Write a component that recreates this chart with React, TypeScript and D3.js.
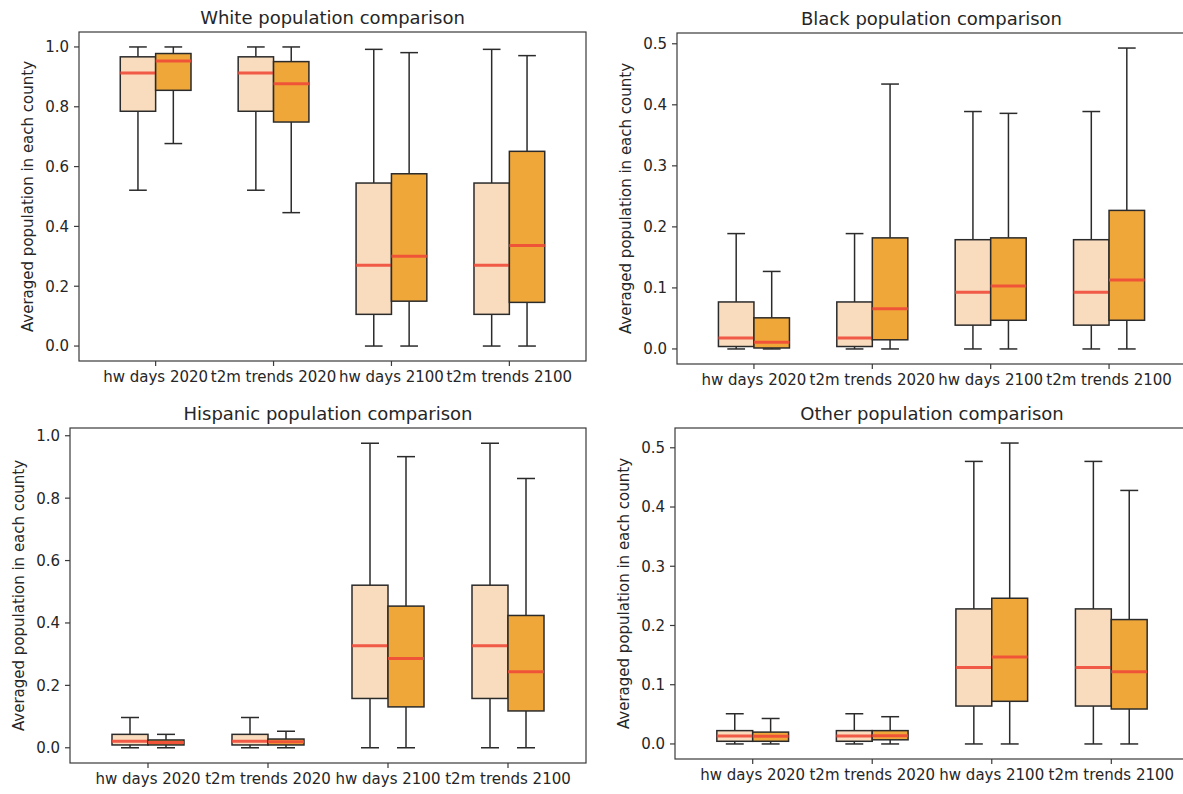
import React from "react";
import * as d3 from "d3";

// ---------- data (five-number summaries: [whisker low, Q1, median, Q3, whisker high]) ----------
const categories = ["hw days 2020", "t2m trends 2020", "hw days 2100", "t2m trends 2100"];

const panelTitles = [
  "White population comparison",
  "Black population comparison",
  "Hispanic population comparison",
  "Other population comparison",
];

const yLabel = "Averaged population in each county";

const whiteLight = [
  [0.521, 0.785, 0.913, 0.967, 1.0],
  [0.521, 0.785, 0.913, 0.967, 1.0],
  [0.0, 0.106, 0.27, 0.545, 0.992],
  [0.0, 0.106, 0.27, 0.545, 0.992],
];
const whiteDark = [
  [0.677, 0.855, 0.953, 0.978, 1.0],
  [0.446, 0.749, 0.877, 0.951, 1.0],
  [0.0, 0.15, 0.3, 0.576, 0.981],
  [0.0, 0.146, 0.336, 0.651, 0.971],
];

const blackLight = [
  [0.0, 0.004, 0.018, 0.077, 0.189],
  [0.0, 0.004, 0.018, 0.077, 0.189],
  [0.0, 0.039, 0.093, 0.179, 0.389],
  [0.0, 0.039, 0.093, 0.179, 0.389],
];
const blackDark = [
  [0.0, 0.0016, 0.011, 0.051, 0.127],
  [0.0, 0.015, 0.066, 0.182, 0.434],
  [0.0, 0.047, 0.103, 0.182, 0.386],
  [0.0, 0.047, 0.113, 0.227, 0.493],
];

const hispanicLight = [
  [0.0, 0.009, 0.021, 0.043, 0.097],
  [0.0, 0.009, 0.021, 0.043, 0.097],
  [0.0, 0.158, 0.327, 0.521, 0.976],
  [0.0, 0.158, 0.327, 0.521, 0.976],
];
const hispanicDark = [
  [0.0, 0.009, 0.017, 0.025, 0.043],
  [0.0, 0.009, 0.019, 0.028, 0.053],
  [0.0, 0.131, 0.286, 0.454, 0.933],
  [0.0, 0.118, 0.244, 0.424, 0.863],
];

const otherLight = [
  [0.0, 0.0045, 0.0135, 0.0225, 0.051],
  [0.0, 0.0045, 0.0135, 0.0225, 0.051],
  [0.0, 0.064, 0.129, 0.228, 0.477],
  [0.0, 0.064, 0.129, 0.228, 0.477],
];
const otherDark = [
  [0.0, 0.0045, 0.013, 0.02, 0.043],
  [0.0, 0.007, 0.014, 0.0225, 0.046],
  [0.0, 0.072, 0.147, 0.246, 0.508],
  [0.0, 0.059, 0.122, 0.21, 0.428],
];

const yTicksFull = [0, 0.2, 0.4, 0.6, 0.8, 1.0];
const yTicksHalf = [0, 0.1, 0.2, 0.3, 0.4, 0.5];

// ---------- layout / style ----------
const layout = [
  { left: 79, right: 586, top: 32, bottom: 361 },
  { left: 677, right: 1186, top: 33, bottom: 364 },
  { left: 70, right: 586, top: 428, bottom: 763 },
  { left: 675, right: 1189, top: 428, bottom: 759 },
];

const LIGHT = "#F9DBBD";
const DARK = "#F0A73A";
const MEDIAN = "#EE4B39";
const EDGE = "#2b2b2b";
const TEXT = "#262626";
const FONT = "DejaVu Sans, Liberation Sans, sans-serif";

const panels = [
  { title: panelTitles[0], light: whiteLight, dark: whiteDark, ticks: yTicksFull },
  { title: panelTitles[1], light: blackLight, dark: blackDark, ticks: yTicksHalf },
  { title: panelTitles[2], light: hispanicLight, dark: hispanicDark, ticks: yTicksFull },
  { title: panelTitles[3], light: otherLight, dark: otherDark, ticks: yTicksHalf },
];

function Box({ s, cx, w, x, y, fill }: any) {
  const [lo, q1, med, q3, hi] = s;
  const x0 = x(cx - w / 2);
  const x1 = x(cx + w / 2);
  const xc = x(cx);
  const capHalf = (x1 - x0) / 4;
  return (
    <g>
      <line x1={xc} x2={xc} y1={y(q3)} y2={y(hi)} stroke={EDGE} strokeWidth={1.5} />
      <line x1={xc} x2={xc} y1={y(q1)} y2={y(lo)} stroke={EDGE} strokeWidth={1.5} />
      <line x1={xc - capHalf} x2={xc + capHalf} y1={y(hi)} y2={y(hi)} stroke={EDGE} strokeWidth={1.5} />
      <line x1={xc - capHalf} x2={xc + capHalf} y1={y(lo)} y2={y(lo)} stroke={EDGE} strokeWidth={1.5} />
      <rect x={x0} y={y(q3)} width={x1 - x0} height={Math.max(0.5, y(q1) - y(q3))} fill={fill} stroke={EDGE} strokeWidth={1.5} />
      <line x1={x0} x2={x1} y1={y(med)} y2={y(med)} stroke={MEDIAN} strokeWidth={3} strokeOpacity={0.9} />
    </g>
  );
}

function Panel({ p, L }: any) {
  const all = [...p.light, ...p.dark];
  const mn = d3.min(all, (d: number[]) => d[0]) as number;
  const mx = d3.max(all, (d: number[]) => d[4]) as number;
  const pad = (mx - mn) * 0.05;
  const y = d3.scaleLinear().domain([mn - pad, mx + pad]).range([L.bottom, L.top]);
  const x = d3.scaleLinear().domain([0.35, categories.length + 0.65]).range([L.left, L.right]);
  const w = 0.3;
  return (
    <g>
      <text x={(L.left + L.right) / 2} y={L.top - 8} textAnchor="middle" fontSize={18} fill={TEXT} fontFamily={FONT}>
        {p.title}
      </text>
      {categories.map((c, i) => (
        <g key={c}>
          <Box s={p.light[i]} cx={i + 1 - 0.15} w={w} x={x} y={y} fill={LIGHT} />
          <Box s={p.dark[i]} cx={i + 1 + 0.15} w={w} x={x} y={y} fill={DARK} />
        </g>
      ))}
      <rect x={L.left} y={L.top} width={L.right - L.left} height={L.bottom - L.top} fill="none" stroke="#3a3a3a" strokeWidth={1.2} />
      {p.ticks.map((t: number) => (
        <g key={t}>
          <line x1={L.left - 5} x2={L.left} y1={y(t)} y2={y(t)} stroke="#3a3a3a" strokeWidth={1.2} />
          <text x={L.left - 10} y={y(t)} dy="0.36em" textAnchor="end" fontSize={15} fill={TEXT} fontFamily={FONT}>
            {d3.format(".1f")(t)}
          </text>
        </g>
      ))}
      {categories.map((c, i) => (
        <g key={c}>
          <line x1={x(i + 1)} x2={x(i + 1)} y1={L.bottom} y2={L.bottom + 5} stroke="#3a3a3a" strokeWidth={1.2} />
          <text x={x(i + 1)} y={L.bottom + 21} textAnchor="middle" fontSize={15} fill={TEXT} fontFamily={FONT}>
            {c}
          </text>
        </g>
      ))}
      <text
        transform={`translate(${L.left - 51},${(L.top + L.bottom) / 2}) rotate(-90)`}
        textAnchor="middle"
        dy="0.36em"
        fontSize={15}
        fill={TEXT}
        fontFamily={FONT}
      >
        {yLabel}
      </text>
    </g>
  );
}

export default function App() {
  return (
    <svg
      width={1183}
      height={794}
      style={{ position: "absolute", left: 0, top: 0, background: "#fff" }}
    >
      <rect x={0} y={0} width={1183} height={794} fill="#fff" />
      {panels.map((p, i) => (
        <Panel key={i} p={p} L={layout[i]} />
      ))}
    </svg>
  );
}
